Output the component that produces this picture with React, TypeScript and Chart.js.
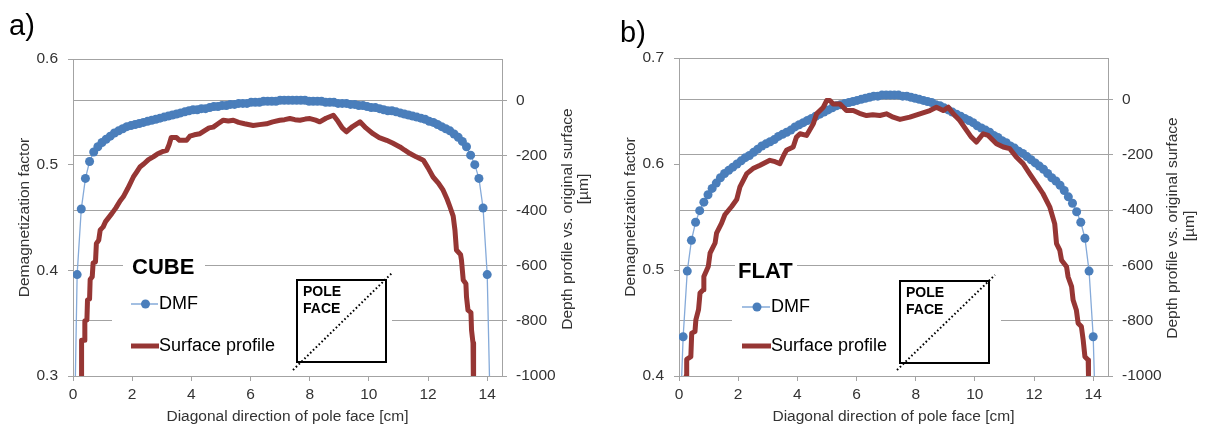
import React, { useEffect, useRef } from 'react';
import { Chart, registerables } from 'chart.js';

Chart.register(...registerables);

// ---------------- data ----------------
const X_TICKS = [0, 2, 4, 6, 8, 10, 12, 14];
const LEFT_TICKS_A = [0.3, 0.4, 0.5, 0.6];
const LEFT_TICKS_B = [0.4, 0.5, 0.6, 0.7];
const RIGHT_TICKS = [-1000, -800, -600, -400, -200, 0];

// positions along the diagonal [cm] of the DMF samples
const DMF_X = [
  0, 0.14, 0.28, 0.42, 0.56, 0.70, 0.84, 0.98, 1.12, 1.26,
  1.40, 1.54, 1.68, 1.82, 1.96, 2.10, 2.24, 2.38, 2.52, 2.66,
  2.80, 2.94, 3.08, 3.22, 3.36, 3.50, 3.64, 3.78, 3.92, 4.06,
  4.20, 4.34, 4.48, 4.62, 4.76, 4.90, 5.04, 5.18, 5.32, 5.46,
  5.60, 5.74, 5.88, 6.02, 6.16, 6.30, 6.44, 6.58, 6.72, 6.86,
  7.00, 7.14, 7.28, 7.42, 7.56, 7.70, 7.84, 7.98, 8.12, 8.26,
  8.40, 8.54, 8.68, 8.82, 8.96, 9.10, 9.24, 9.38, 9.52, 9.66,
  9.80, 9.94, 10.08, 10.22, 10.36, 10.50, 10.64, 10.78, 10.92, 11.06,
  11.20, 11.34, 11.48, 11.62, 11.76, 11.90, 12.04, 12.18, 12.32, 12.46,
  12.60, 12.74, 12.88, 13.02, 13.16, 13.30, 13.44, 13.58, 13.72, 13.86,
  14.00, 14.14,
];

const DMF_A = [
  0.17, 0.396, 0.458, 0.487, 0.503, 0.512, 0.517, 0.521, 0.524, 0.527,
  0.530, 0.532, 0.534, 0.536, 0.537, 0.538, 0.539, 0.540, 0.541, 0.542,
  0.543, 0.544, 0.545, 0.546, 0.547, 0.548, 0.549, 0.550, 0.551, 0.552,
  0.552, 0.553, 0.553, 0.554, 0.555, 0.555, 0.556, 0.556, 0.557, 0.557,
  0.558, 0.558, 0.558, 0.559, 0.559, 0.559, 0.560, 0.560, 0.560, 0.560,
  0.561, 0.561, 0.561, 0.561, 0.561, 0.561, 0.561, 0.560, 0.560, 0.560,
  0.560, 0.559, 0.559, 0.559, 0.558, 0.558, 0.558, 0.557, 0.557, 0.556,
  0.556, 0.555, 0.554, 0.554, 0.553, 0.552, 0.551, 0.551, 0.550, 0.549,
  0.548, 0.547, 0.546, 0.545, 0.544, 0.543, 0.541, 0.540, 0.538, 0.536,
  0.534, 0.532, 0.529, 0.526, 0.522, 0.517, 0.509, 0.500, 0.487, 0.459,
  0.396, 0.22,
];

const DMF_B = [
  0.33, 0.437, 0.499, 0.528, 0.545, 0.556, 0.564, 0.571, 0.577, 0.582,
  0.587, 0.591, 0.594, 0.597, 0.600, 0.603, 0.606, 0.608, 0.611, 0.614,
  0.617, 0.619, 0.621, 0.623, 0.626, 0.628, 0.630, 0.632, 0.635, 0.637,
  0.639, 0.641, 0.643, 0.645, 0.647, 0.649, 0.651, 0.653, 0.655, 0.656,
  0.657, 0.658, 0.659, 0.660, 0.661, 0.662, 0.663, 0.664, 0.664, 0.665,
  0.665, 0.665, 0.665, 0.665, 0.664, 0.664, 0.663, 0.662, 0.661, 0.660,
  0.659, 0.658, 0.656, 0.655, 0.653, 0.651, 0.649, 0.647, 0.645, 0.643,
  0.641, 0.639, 0.636, 0.634, 0.632, 0.630, 0.627, 0.625, 0.622, 0.620,
  0.617, 0.615, 0.612, 0.610, 0.607, 0.604, 0.601, 0.598, 0.595, 0.591,
  0.587, 0.584, 0.580, 0.575, 0.569, 0.563, 0.555, 0.545, 0.530, 0.499,
  0.437, 0.30,
];

const RED_A_X = [
  0.27, 0.29, 0.29, 0.38, 0.40, 0.47, 0.49, 0.56, 0.58, 0.65,
  0.68, 0.76, 0.79, 0.87, 0.92, 1.02, 1.10, 1.31, 1.45, 1.59,
  1.70, 1.85, 2.04, 2.15, 2.26, 2.40, 2.55, 2.71, 2.85, 3.05,
  3.17, 3.25, 3.32, 3.50, 3.60, 3.84, 3.95, 4.10, 4.29, 4.45,
  4.60, 4.74, 4.90, 5.08, 5.25, 5.42, 5.60, 5.80, 6.09, 6.30,
  6.54, 6.75, 6.99, 7.15, 7.33, 7.50, 7.67, 7.85, 8.01, 8.20,
  8.34, 8.55, 8.80, 8.95, 9.10, 9.24, 9.45, 9.70, 9.90, 10.14,
  10.35, 10.60, 10.80, 11.05, 11.20, 11.39, 11.60, 11.84, 12.00, 12.17,
  12.35, 12.51, 12.65, 12.74, 12.85, 12.91, 12.96, 13.10, 13.13, 13.19,
  13.28, 13.30, 13.35, 13.45, 13.47, 13.52, 13.53, 13.55,
];
const RED_A_Y = [
  -1100, -1000, -870, -870, -800, -797, -725, -720, -650, -640,
  -590, -586, -520, -507, -470, -459, -440, -411, -390, -365,
  -350, -320, -278, -260, -242, -230, -215, -205, -195, -185,
  -181, -160, -135, -135, -145, -145, -130, -125, -121, -110,
  -100, -97, -85, -72, -75, -72, -80, -85, -91, -88,
  -85, -78, -72, -70, -66, -70, -72, -68, -66, -72,
  -78, -65, -54, -75, -100, -114, -95, -78, -100, -121,
  -135, -145, -155, -169, -180, -193, -205, -217, -245, -278,
  -300, -326, -360, -386, -420, -471, -543, -560, -580, -652,
  -665, -713, -761, -770, -833, -880, -1000, -1100,
];

const RED_B_X = [
  0.22, 0.24, 0.26, 0.40, 0.43, 0.54, 0.57, 0.66, 0.69, 0.71,
  0.82, 0.84, 0.99, 1.05, 1.22, 1.27, 1.44, 1.55, 1.78, 1.95,
  2.06, 2.29, 2.50, 2.74, 3.07, 3.25, 3.41, 3.55, 3.63, 3.86,
  3.97, 4.09, 4.31, 4.54, 4.65, 4.88, 4.99, 5.10, 5.21, 5.44,
  5.66, 5.89, 6.10, 6.34, 6.55, 6.79, 7.01, 7.24, 7.47, 7.80,
  8.14, 8.48, 8.70, 8.93, 9.10, 9.27, 9.49, 9.72, 9.88, 10.05,
  10.28, 10.45, 10.73, 10.96, 11.18, 11.40, 11.63, 11.85, 12.08, 12.30,
  12.53, 12.70, 12.76, 12.87, 12.93, 13.10, 13.15, 13.27, 13.32, 13.43,
  13.49, 13.60, 13.66, 13.72, 13.83, 13.84, 13.86,
];
const RED_B_Y = [
  -1100, -1000, -940, -930, -845, -839, -797, -760, -725, -700,
  -688, -640, -604, -556, -519, -483, -447, -417, -387, -362,
  -316, -268, -250, -238, -220, -225, -232, -200, -184, -172,
  -136, -124, -130, -88, -52, -28, -4, -4, -16, -16,
  -40, -40, -50, -58, -55, -58, -52, -64, -72, -64,
  -52, -40, -28, -40, -28, -52, -76, -112, -136, -154,
  -124, -130, -160, -172, -178, -208, -232, -268, -304, -340,
  -388, -450, -521, -545, -581, -605, -641, -677, -725, -761,
  -809, -821, -869, -930, -942, -1000, -1100,
];

// ---------------- style / layout ----------------
const FONT = '"Liberation Sans", Arial, sans-serif';
const TEXT = '#333333';
const GRID = '#a3a3a3';
const BLUE_PT = '#4a7ebb';
const BLUE_LN = '#85aad9';
const RED = '#963634';
const H = 428;

type Panel = {
  offset: number; w: number;
  area: { left: number; right: number; top: number; bottom: number };
  letter: string; letterX: number; letterY: number;
  name: string; leftMin: number; leftMax: number; leftTicks: number[];
  dmf: number[]; redX: number[]; redY: number[];
  leftTitleX: number; rightTitle1: [number, number]; rightTitle2: [number, number];
  legend: { nameX: number; nameY: number; lineX0: number; dmfY: number; surfY: number; textX: number };
  box: { x: number; y: number; w: number; h: number; dotFrom: [number, number]; dotTo: [number, number] };
  masks: [number, number, number, number][];
};

const PANEL_A: Panel = {
  offset: 0, w: 602,
  area: { left: 73, right: 502, top: 59, bottom: 376 },
  letter: 'a)', letterX: 9, letterY: 35,
  name: 'CUBE', leftMin: 0.3, leftMax: 0.6, leftTicks: LEFT_TICKS_A,
  dmf: DMF_A, redX: RED_A_X, redY: RED_A_Y,
  leftTitleX: 25, rightTitle1: [568, 219], rightTitle2: [584, 189],
  legend: { nameX: 132, nameY: 268, lineX0: 131, dmfY: 304, surfY: 346, textX: 158 },
  box: { x: 297, y: 280, w: 89, h: 82, dotFrom: [293, 370], dotTo: [392, 273] },
  masks: [[123, 255, 205, 280], [112, 285, 392, 372]],
};

const PANEL_B: Panel = {
  offset: 602, w: 603,
  area: { left: 77, right: 506, top: 58, bottom: 376 },
  letter: 'b)', letterX: 18, letterY: 42,
  name: 'FLAT', leftMin: 0.4, leftMax: 0.7, leftTicks: LEFT_TICKS_B,
  dmf: DMF_B, redX: RED_B_X, redY: RED_B_Y,
  leftTitleX: 29, rightTitle1: [571, 228], rightTitle2: [588, 226],
  legend: { nameX: 136, nameY: 272, lineX0: 140, dmfY: 307, surfY: 346, textX: 168 },
  box: { x: 298, y: 281, w: 89, h: 82, dotFrom: [295, 370], dotTo: [393, 275] },
  masks: [[133, 255, 195, 280], [130, 285, 399, 372]],
};

function vText(ctx: CanvasRenderingContext2D, text: string, x: number, y: number) {
  ctx.save();
  ctx.translate(x, y);
  ctx.rotate(-Math.PI / 2);
  ctx.textAlign = 'center';
  ctx.textBaseline = 'middle';
  ctx.fillText(text, 0, 0);
  ctx.restore();
}

function decorPlugin(p: Panel) {
  return {
    id: 'decor',
    beforeDatasetsDraw(chart: any) {
      const ctx: CanvasRenderingContext2D = chart.ctx;
      const a = chart.chartArea;
      ctx.save();
      ctx.fillStyle = '#ffffff';
      p.masks.forEach(([x0, y0, x1, y1]) => ctx.fillRect(x0, y0, x1 - x0, y1 - y0));
      ctx.strokeStyle = GRID;
      ctx.lineWidth = 1;
      ctx.beginPath();
      ctx.moveTo(Math.round(a.left) + 0.5, Math.round(a.top) + 0.5);
      ctx.lineTo(Math.round(a.right) + 0.5, Math.round(a.top) + 0.5);
      ctx.stroke();
      ctx.restore();
    },
    afterDraw(chart: any) {
      const ctx: CanvasRenderingContext2D = chart.ctx;
      const a = chart.chartArea;
      ctx.save();
      // panel letter
      ctx.fillStyle = '#000';
      ctx.font = `29px ${FONT}`;
      ctx.textAlign = 'left';
      ctx.textBaseline = 'alphabetic';
      ctx.fillText(p.letter, p.letterX, p.letterY);

      // axis titles
      ctx.fillStyle = TEXT;
      ctx.font = `15.5px ${FONT}`;
      vText(ctx, 'Demagnetization factor', p.leftTitleX, (a.top + a.bottom) / 2);
      vText(ctx, 'Depth profile vs. original surface', p.rightTitle1[0], p.rightTitle1[1]);
      vText(ctx, '[µm]', p.rightTitle2[0], p.rightTitle2[1]);
      ctx.textAlign = 'center';
      ctx.textBaseline = 'middle';
      ctx.fillText('Diagonal direction of pole face [cm]', (a.left + a.right) / 2, 417);

      // legend
      const L = p.legend;
      ctx.fillStyle = '#000';
      ctx.font = `bold 22px ${FONT}`;
      ctx.textAlign = 'left';
      ctx.textBaseline = 'middle';
      ctx.fillText(p.name, L.nameX, L.nameY);

      ctx.strokeStyle = BLUE_LN;
      ctx.lineWidth = 1.5;
      ctx.beginPath();
      ctx.moveTo(L.lineX0, L.dmfY);
      ctx.lineTo(L.textX, L.dmfY);
      ctx.stroke();
      ctx.fillStyle = BLUE_PT;
      ctx.beginPath();
      ctx.arc((L.lineX0 + L.textX) / 2 + 1, L.dmfY, 4.5, 0, Math.PI * 2);
      ctx.fill();

      ctx.strokeStyle = RED;
      ctx.lineWidth = 5;
      ctx.beginPath();
      ctx.moveTo(L.lineX0, L.surfY);
      ctx.lineTo(L.textX + 1, L.surfY);
      ctx.stroke();

      ctx.fillStyle = '#000';
      ctx.font = `18px ${FONT}`;
      ctx.fillText('DMF', L.textX + 1, L.dmfY);
      ctx.fillText('Surface profile', L.textX + 1, L.surfY);

      // pole face inset
      const B = p.box;
      ctx.strokeStyle = '#000';
      ctx.lineWidth = 2;
      ctx.strokeRect(B.x, B.y, B.w, B.h);
      ctx.font = `bold 14px ${FONT}`;
      ctx.fillText('POLE', B.x + 6, B.y + 12);
      ctx.fillText('FACE', B.x + 6, B.y + 29);
      ctx.setLineDash([1.6, 2.4]);
      ctx.lineWidth = 2;
      ctx.beginPath();
      ctx.moveTo(B.dotFrom[0], B.dotFrom[1]);
      ctx.lineTo(B.dotTo[0], B.dotTo[1]);
      ctx.stroke();
      ctx.restore();
    },
  };
}

function buildConfig(p: Panel): any {
  const tickFont = { family: FONT, size: 15.5 };
  return {
    type: 'line',
    data: {
      datasets: [
        {
          label: 'Surface profile',
          data: p.redX.map((x, i) => ({ x, y: p.redY[i] })),
          yAxisID: 'y1',
          borderColor: RED,
          borderWidth: 5,
          pointRadius: 0,
          borderJoinStyle: 'round',
          tension: 0,
          clip: 0,
        },
        {
          label: 'DMF',
          data: DMF_X.map((x, i) => ({ x, y: p.dmf[i] })),
          yAxisID: 'y',
          borderColor: BLUE_LN,
          borderWidth: 1.3,
          pointRadius: 4.5,
          pointBackgroundColor: BLUE_PT,
          pointBorderWidth: 0,
          pointBorderColor: BLUE_PT,
          tension: 0,
          clip: 0,
        },
      ],
    },
    options: {
      responsive: false,
      animation: false,
      devicePixelRatio: 1,
      layout: { padding: { top: p.area.top, left: 0, right: 0, bottom: 0 } },
      plugins: { legend: { display: false }, tooltip: { enabled: false }, title: { display: false } },
      scales: {
        x: {
          type: 'linear', position: 'bottom', min: 0, max: 14.5,
          afterBuildTicks: (s: any) => { s.ticks = X_TICKS.map((v) => ({ value: v })); },
          afterFit: (s: any) => { s.height = H - p.area.bottom; },
          grid: { drawOnChartArea: false, drawTicks: true, tickLength: 5, color: GRID },
          border: { display: true, color: GRID },
          ticks: { padding: 4, color: TEXT, font: tickFont, maxRotation: 0, autoSkip: false, callback: (v: any) => String(v) },
        },
        y: {
          type: 'linear', position: 'left', min: p.leftMin, max: p.leftMax,
          afterBuildTicks: (s: any) => { s.ticks = p.leftTicks.map((v) => ({ value: v })); },
          afterFit: (s: any) => { s.width = p.area.left; },
          grid: { drawOnChartArea: false, drawTicks: true, tickLength: 5, color: GRID },
          border: { display: true, color: GRID },
          ticks: { padding: 10, color: TEXT, font: tickFont, callback: (v: any) => Number(v).toFixed(1) },
        },
        y1: {
          type: 'linear', position: 'right', min: -1000, max: 150,
          afterBuildTicks: (s: any) => { s.ticks = RIGHT_TICKS.map((v) => ({ value: v })); },
          afterFit: (s: any) => { s.width = p.w - p.area.right; },
          grid: { drawOnChartArea: true, drawTicks: true, tickLength: 5, color: GRID },
          border: { display: true, color: GRID },
          ticks: { padding: 9, color: TEXT, font: tickFont, callback: (v: any) => String(v) },
        },
      },
    },
    plugins: [decorPlugin(p)],
  };
}

function PanelChart({ p }: { p: Panel }) {
  const ref = useRef<HTMLCanvasElement | null>(null);
  useEffect(() => {
    if (!ref.current) return;
    const chart = new Chart(ref.current, buildConfig(p));
    return () => chart.destroy();
  }, [p]);
  return (
    <canvas
      ref={ref}
      width={p.w}
      height={H}
      style={{ position: 'absolute', left: p.offset, top: 0, width: p.w, height: H, display: 'block' }}
    />
  );
}

export default function App() {
  return (
    <div style={{ position: 'fixed', left: 0, top: 0, width: 1205, height: H, background: '#ffffff', overflow: 'hidden' }}>
      <PanelChart p={PANEL_A} />
      <PanelChart p={PANEL_B} />
    </div>
  );
}
